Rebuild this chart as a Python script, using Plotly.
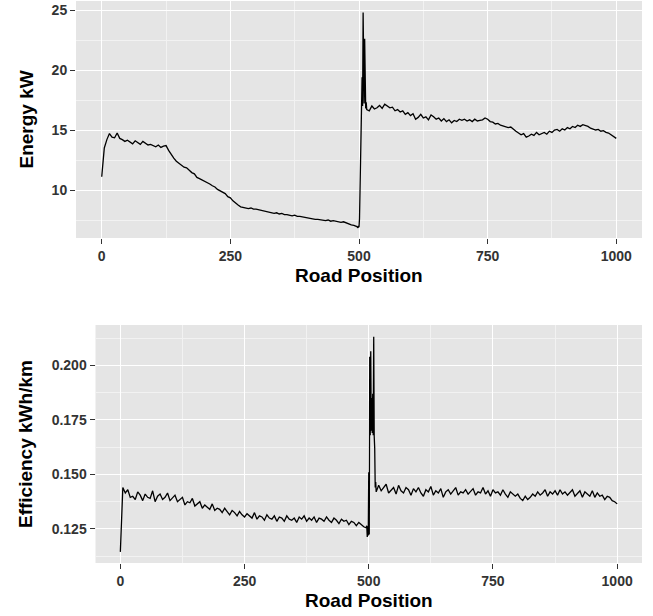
import plotly.graph_objects as go

# Road position grid (fine sampling around the spike near 500)
road_position = list(range(0, 496, 5)) + list(range(496, 516)) + list(range(520, 1001, 5))

energy_kw = [
    # 0-95
    11.1, 13.5, 14.2, 14.7, 14.4, 14.35, 14.75, 14.3, 14.2, 14.05,
    14.15, 14.0, 13.85, 14.1, 13.95, 13.8, 14.05, 13.9, 13.75, 13.8,
    # 100-195
    13.7, 13.6, 13.75, 13.55, 13.65, 13.7, 13.3, 12.95, 12.65, 12.4,
    12.25, 12.05, 11.9, 11.85, 11.65, 11.45, 11.35, 11.05, 10.95, 10.85,
    # 200-295
    10.7, 10.65, 10.5, 10.35, 10.25, 10.05, 9.95, 9.8, 9.7, 9.45,
    9.35, 9.1, 8.9, 8.75, 8.6, 8.55, 8.5, 8.45, 8.5, 8.4,
    # 300-395
    8.4, 8.35, 8.3, 8.25, 8.2, 8.15, 8.15, 8.05, 8.1, 8.0,
    8.05, 7.95, 7.95, 7.9, 7.85, 7.9, 7.8, 7.8, 7.75, 7.7,
    # 400-495
    7.7, 7.65, 7.6, 7.55, 7.55, 7.5, 7.5, 7.45, 7.5, 7.4,
    7.45, 7.4, 7.35, 7.3, 7.35, 7.25, 7.2, 7.1, 7.05, 7.0,
    # 496-515
    6.95, 6.9, 6.85, 7.0, 6.9, 7.6, 10.7, 13.0, 16.9, 16.5,
    19.4, 17.0, 24.8, 21.0, 17.2, 22.6, 17.5, 16.8, 17.3, 16.7,
    # 520-595
    16.6, 17.0, 16.75, 16.85, 17.05, 16.8, 17.15, 17.0, 16.85, 16.9,
    16.6, 16.7, 16.5, 16.6, 16.3, 16.45,
    # 600-695
    16.2, 16.35, 15.9, 16.05, 16.3, 16.0, 16.1, 15.85, 16.25, 16.1,
    15.9, 16.0, 15.75, 15.95, 15.7, 15.85, 15.6, 15.8, 15.7, 15.9,
    # 700-795
    15.8, 15.9, 15.75, 15.85, 15.7, 15.9, 15.75, 15.8, 15.85, 16.0,
    15.9, 15.7, 15.65, 15.5, 15.55, 15.4, 15.35, 15.3, 15.2, 15.25,
    # 800-895
    15.05, 14.9, 14.75, 14.6, 14.7, 14.4, 14.5, 14.65, 14.55, 14.8,
    14.6, 14.7, 14.8, 14.65, 14.9, 14.8, 15.0, 15.05, 14.9, 15.1,
    # 900-1000
    15.0, 15.2, 15.1, 15.3, 15.2, 15.4, 15.3, 15.45, 15.4, 15.3,
    15.15, 15.1, 15.0, 15.05, 14.9, 14.95, 14.8, 14.75, 14.6, 14.45,
    14.3,
]

efficiency_kwh_km = [
    # 0-95
    0.1145, 0.1440, 0.1415, 0.1430, 0.1395, 0.1400, 0.1385, 0.1420, 0.1405, 0.1380,
    0.1410, 0.1395, 0.1390, 0.1425, 0.1375, 0.1400, 0.1410, 0.1385, 0.1395, 0.1415,
    # 100-195
    0.1380, 0.1395, 0.1405, 0.1375, 0.1385, 0.1395, 0.1360, 0.1375, 0.1370, 0.1390,
    0.1355, 0.1365, 0.1375, 0.1345, 0.1360, 0.1350, 0.1340, 0.1365, 0.1335, 0.1345,
    # 200-295
    0.1340, 0.1325, 0.1345, 0.1330, 0.1315, 0.1335, 0.1325, 0.1310, 0.1330, 0.1315,
    0.1305, 0.1320, 0.1310, 0.1300, 0.1325, 0.1295, 0.1310, 0.1305, 0.1290, 0.1315,
    # 300-395
    0.1300, 0.1295, 0.1310, 0.1285, 0.1305, 0.1300, 0.1285, 0.1310, 0.1295, 0.1290,
    0.1300, 0.1280, 0.1305, 0.1295, 0.1310, 0.1285, 0.1300, 0.1290, 0.1305, 0.1280,
    # 400-495
    0.1300, 0.1295, 0.1285, 0.1305, 0.1290, 0.1280, 0.1300, 0.1290, 0.1275, 0.1295,
    0.1285, 0.1290, 0.1270, 0.1285, 0.1280, 0.1265, 0.1280, 0.1270, 0.1260, 0.1255,
    # 496-515
    0.1265, 0.1213, 0.1262, 0.1220, 0.1510, 0.1225, 0.2040, 0.1680, 0.2065, 0.1700,
    0.1850, 0.1690, 0.1870, 0.1680, 0.2131, 0.1675, 0.1620, 0.1440, 0.1465, 0.1420,
    # 520-595
    0.1450, 0.1425, 0.1440, 0.1455, 0.1415, 0.1430, 0.1440, 0.1410, 0.1450, 0.1425,
    0.1415, 0.1440, 0.1430, 0.1405, 0.1435, 0.1420,
    # 600-695
    0.1440, 0.1415, 0.1400, 0.1430, 0.1420, 0.1445, 0.1405, 0.1425, 0.1415, 0.1435,
    0.1395, 0.1420, 0.1430, 0.1410, 0.1425, 0.1440, 0.1405, 0.1420, 0.1415, 0.1430,
    # 700-795
    0.1410, 0.1425, 0.1435, 0.1405, 0.1420, 0.1415, 0.1440, 0.1410, 0.1425, 0.1400,
    0.1430, 0.1415, 0.1420, 0.1405, 0.1430, 0.1410, 0.1395, 0.1420, 0.1410, 0.1400,
    # 800-895
    0.1410, 0.1390, 0.1380, 0.1400, 0.1385, 0.1395, 0.1410, 0.1400, 0.1420, 0.1405,
    0.1415, 0.1430, 0.1400, 0.1420, 0.1410, 0.1425, 0.1405, 0.1430, 0.1410, 0.1420,
    # 900-1000
    0.1405, 0.1420, 0.1430, 0.1400, 0.1415, 0.1425, 0.1395, 0.1420, 0.1410, 0.1400,
    0.1425, 0.1395, 0.1415, 0.1400, 0.1405, 0.1385, 0.1400, 0.1395, 0.1380, 0.1375,
    0.1365,
]

x_ticks = [0, 250, 500, 750, 1000]
energy_ticks = [10, 15, 20, 25]
eff_ticks = [0.125, 0.150, 0.175, 0.200]

W, H = 653, 616
FONT = "Liberation Sans, Arial, sans-serif"
TICK_FONT = dict(family=FONT, size=14, color="#333333", weight="bold")
TITLE_FONT = dict(family=FONT, size=19, color="#000000", weight="bold")

fig = go.Figure()
fig.add_trace(go.Scatter(x=road_position, y=energy_kw, mode="lines",
                         line=dict(color="black", width=1.3),
                         xaxis="x", yaxis="y", showlegend=False))
fig.add_trace(go.Scatter(x=road_position, y=efficiency_kwh_km, mode="lines",
                         line=dict(color="black", width=1.3),
                         xaxis="x2", yaxis="y2", showlegend=False))


def axis_common():
    return dict(showline=False, zeroline=False, ticks="outside", ticklen=5,
                tickwidth=1, tickcolor="#333333", tickfont=TICK_FONT,
                showgrid=True, gridcolor="white", gridwidth=1.4)


fig.update_layout(
    width=W, height=H,
    margin=dict(l=0, r=0, t=0, b=0),
    paper_bgcolor="white",
    plot_bgcolor="#E5E5E5",
    xaxis=dict(**axis_common(), domain=[76 / W, 642 / W], range=[-50, 1050],
               tickvals=x_ticks, anchor="y",
               minor=dict(tickvals=[125, 375, 625, 875], showgrid=True,
                          gridcolor="#F2F2F2", gridwidth=0.7, ticks="")),
    yaxis=dict(**axis_common(), domain=[1 - 238 / H, 1 - 1 / H], range=[6.0, 25.75],
               tickvals=energy_ticks, anchor="x",
               minor=dict(tickvals=[7.5, 12.5, 17.5, 22.5], showgrid=True,
                          gridcolor="#F2F2F2", gridwidth=0.7, ticks="")),
    xaxis2=dict(**axis_common(), domain=[95.5 / W, 642 / W], range=[-50, 1050],
                tickvals=x_ticks, anchor="y2",
                minor=dict(tickvals=[125, 375, 625, 875], showgrid=True,
                           gridcolor="#F2F2F2", gridwidth=0.7, ticks="")),
    yaxis2=dict(**axis_common(), domain=[1 - 563 / H, 1 - 325 / H],
                range=[0.1094, 0.2185], tickvals=eff_ticks,
                ticktext=["0.125", "0.150", "0.175", "0.200"], anchor="x2",
                minor=dict(tickvals=[0.1125, 0.1375, 0.1625, 0.1875, 0.2125],
                           showgrid=True, gridcolor="#F2F2F2", gridwidth=0.7, ticks="")),
    annotations=[
        dict(text="Energy kW", x=26 / W, y=1 - 119.5 / H, xref="paper", yref="paper",
             textangle=-90, showarrow=False, font=TITLE_FONT,
             xanchor="center", yanchor="middle"),
        dict(text="Road Position", x=359 / W, y=1 - 275 / H, xref="paper", yref="paper",
             showarrow=False, font=TITLE_FONT, xanchor="center", yanchor="middle"),
        dict(text="Efficiency kWh/km", x=25 / W, y=1 - 444 / H, xref="paper", yref="paper",
             textangle=-90, showarrow=False, font=TITLE_FONT,
             xanchor="center", yanchor="middle"),
        dict(text="Road Position", x=369 / W, y=1 - 600 / H, xref="paper", yref="paper",
             showarrow=False, font=TITLE_FONT, xanchor="center", yanchor="middle"),
    ],
)

fig.write_html(
    "out.html",
    config={"displayModeBar": False},
    post_script="document.body.style.margin='0';document.body.style.padding='0';"
                "document.body.style.overflow='hidden';",
)
